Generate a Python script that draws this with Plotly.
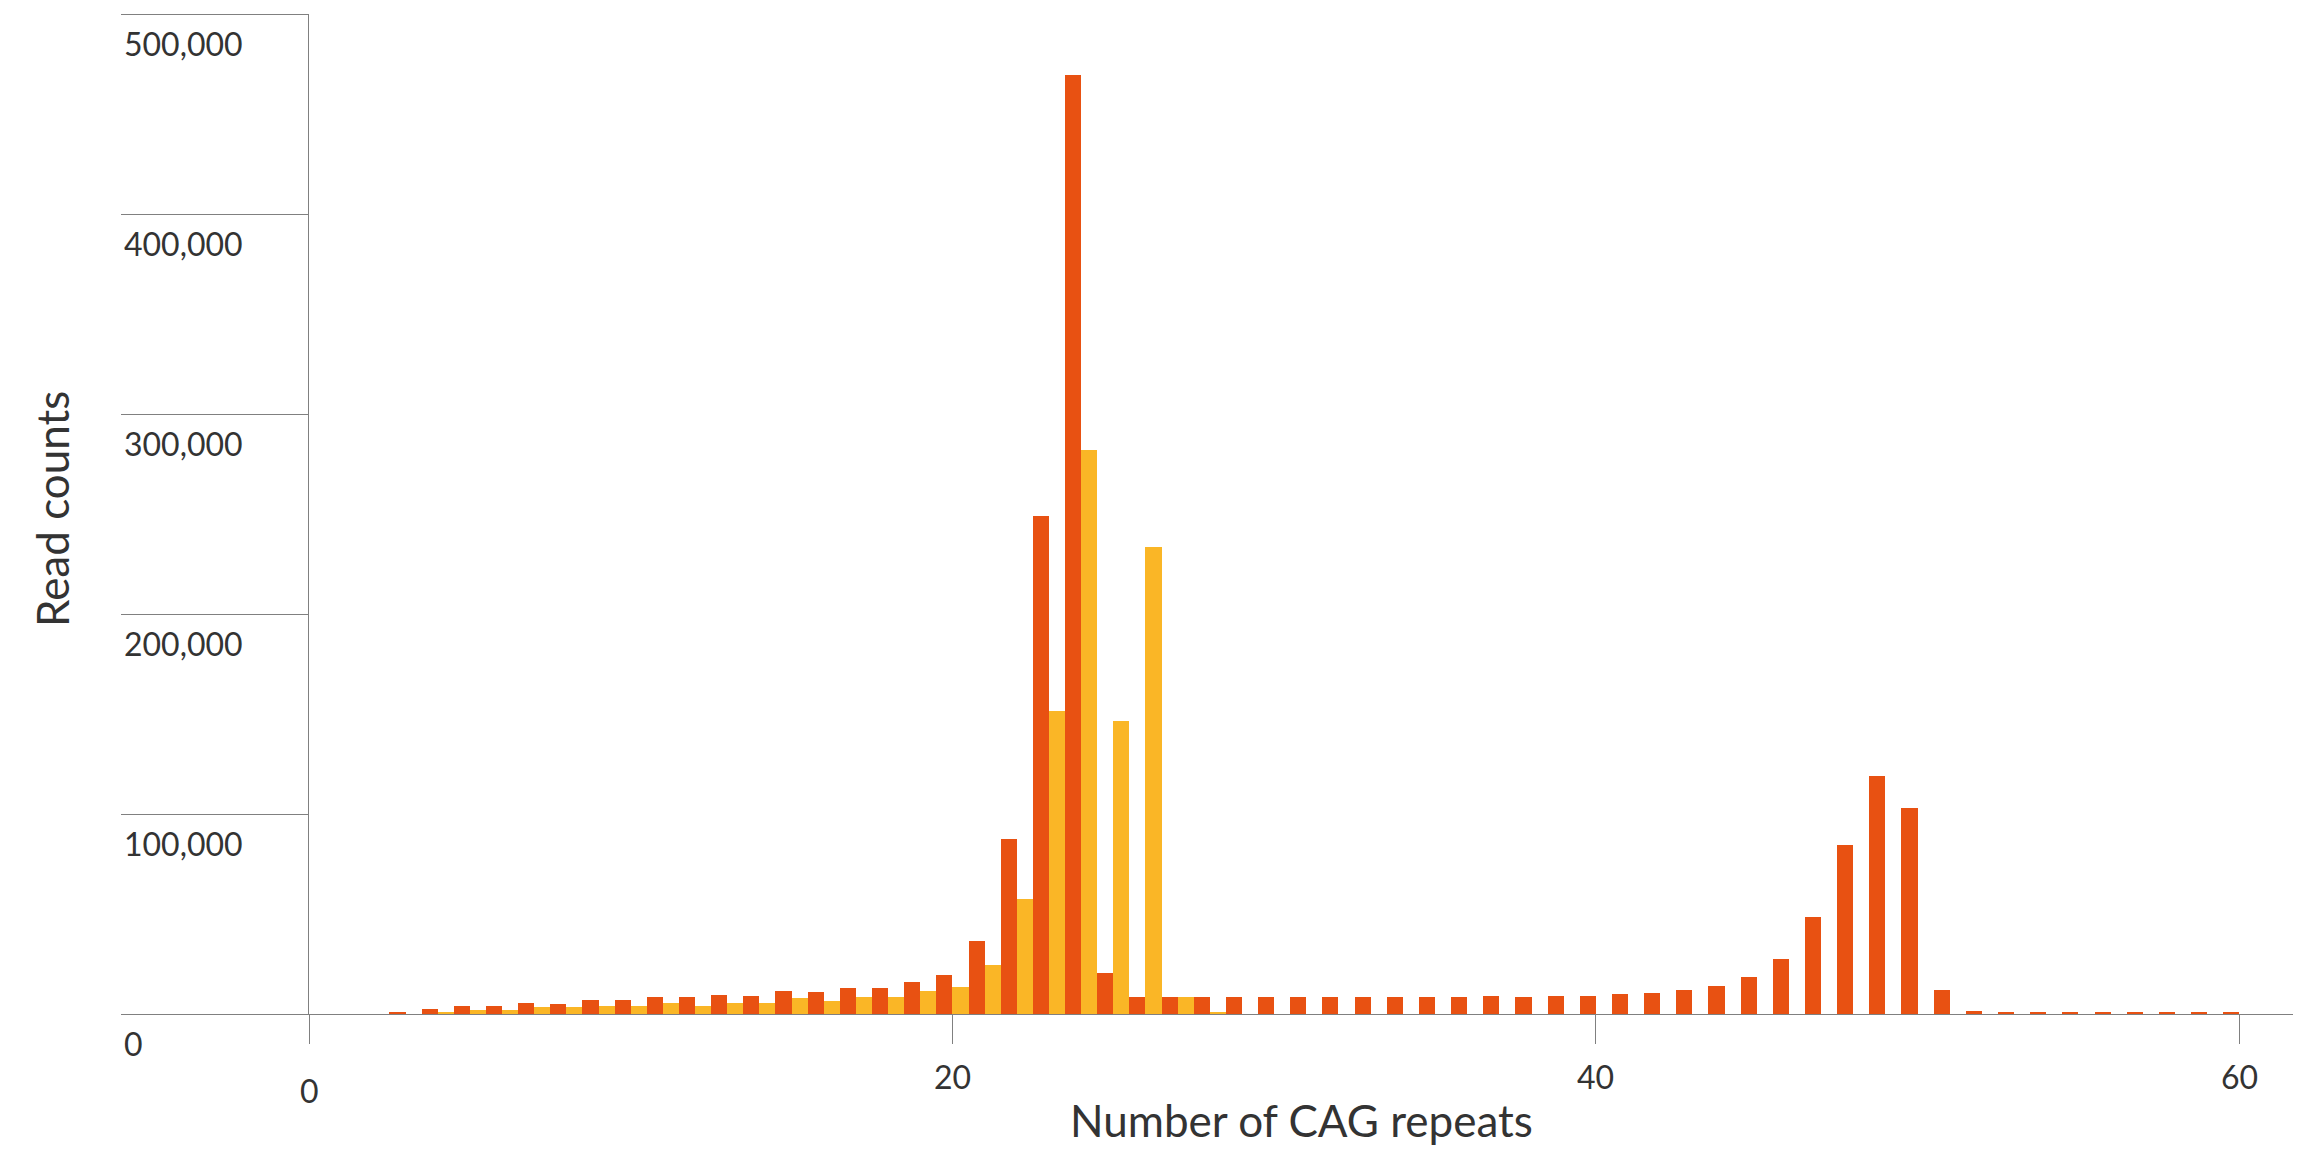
import plotly.graph_objects as go

# CAG repeat lengths on the x axis
repeats = list(range(3, 61))

# Read counts per repeat length, first sample (red-orange bars)
counts_sample_a = [
    1200, 2700, 4200, 4200, 5700, 5200, 7200, 7200, 8700, 8700,      # 3-12
    9700, 9200, 11700, 11200, 13200, 13200, 16200, 19700, 36700, 87400,  # 13-22
    248800, 469400, 20700, 8300, 8300, 8700, 8700, 8700, 8700, 8700,   # 23-32
    8700, 8700, 8700, 8700, 9200, 8500, 9000, 9000, 10000, 10500,      # 33-42
    12000, 14000, 18500, 27500, 48500, 84500, 119000, 103000, 12000, 1500,  # 43-52
    1000, 1000, 1000, 1000, 1000, 1000, 1000, 1000,                    # 53-60
]

# Read counts per repeat length, second sample (yellow bars)
counts_sample_b = [
    0, 1200, 2200, 2200, 3700, 3700, 4200, 4200, 5700, 4200,           # 3-12
    5700, 5700, 8200, 6700, 8700, 8700, 11700, 13300, 24700, 57300,    # 13-22
    151700, 282200, 146600, 233400, 8700, 1200, 0, 0, 0, 0,            # 23-32
    0, 0, 0, 0, 0, 0, 0, 0, 0, 0,                                      # 33-42
    0, 0, 0, 0, 0, 0, 0, 0, 0, 0,                                      # 43-52
    0, 0, 0, 0, 0, 0, 0, 0,                                            # 53-60
]

x_ticks = [0, 20, 40, 60]
x_tick_labels = ["0", "20", "40", "60"]
y_ticks = [0, 100000, 200000, 300000, 400000, 500000]
y_tick_labels = ["0", "100,000", "200,000", "300,000", "400,000", "500,000"]

x_title = "Number of CAG repeats"
y_title = "Read counts"

ORANGE = "#E85112"
YELLOW = "#FAB626"
AXIS = "#808080"
TEXT = "#333333"
FONT = "Lato, 'Open Sans', sans-serif"

W, H = 2304, 1154
M_L, M_R, M_T, M_B = 309, 11, 14, 140
PLOT_W = W - M_L - M_R
Y_TICKLEN = 187

fig = go.Figure()
fig.add_trace(go.Bar(x=repeats, y=counts_sample_a, marker=dict(color=ORANGE, line=dict(width=0)),
                     showlegend=False))
fig.add_trace(go.Bar(x=repeats, y=counts_sample_b, marker=dict(color=YELLOW, line=dict(width=0)),
                     showlegend=False))

fig.update_layout(
    width=W, height=H,
    margin=dict(l=M_L, r=M_R, t=M_T, b=M_B, autoexpand=False),
    paper_bgcolor="white", plot_bgcolor="white",
    barmode="group", bargap=0, bargroupgap=0,
    font=dict(family=FONT, color=TEXT),
    showlegend=False,
)

fig.update_xaxes(
    range=[0, 61.67], tickvals=x_ticks, showticklabels=False,
    ticks="outside", ticklen=29, tickwidth=1, tickcolor=AXIS,
    showline=True, linecolor=AXIS, linewidth=1,
    showgrid=False, zeroline=False, automargin=False,
)
fig.update_yaxes(
    range=[0, 500000], tickvals=y_ticks, showticklabels=False,
    ticks="outside", ticklen=Y_TICKLEN, tickwidth=1, tickcolor=AXIS,
    showline=True, linecolor=AXIS, linewidth=1,
    showgrid=False, zeroline=False, automargin=False,
)

# Y tick labels sit just under each long tick line, left-aligned at its outer end
for v, lab in zip(y_ticks, y_tick_labels):
    fig.add_annotation(
        x=-Y_TICKLEN / PLOT_W, xref="paper", xanchor="left",
        y=v, yref="y", yanchor="top", yshift=-8,
        text=lab, showarrow=False, font=dict(size=32, color=TEXT, family=FONT),
    )

# X tick labels below the tick marks; the origin label drops a little lower
for v, lab in zip(x_ticks, x_tick_labels):
    drop = 14 if v == 0 else 0
    fig.add_annotation(
        x=v, xref="x", xanchor="center",
        y=0, yref="paper", yanchor="top", yshift=-41 - drop,
        text=lab, showarrow=False, font=dict(size=32, color=TEXT, family=FONT),
    )

# Axis titles
fig.add_annotation(
    x=0.5, xref="paper", y=-0.106, yref="paper", yanchor="middle",
    text=x_title, showarrow=False, font=dict(size=44, color=TEXT, family=FONT),
)
fig.add_annotation(
    x=(52 - M_L) / PLOT_W, xref="paper", xanchor="center",
    y=0.505, yref="paper", yanchor="middle", textangle=-90,
    text=y_title, showarrow=False, font=dict(size=44, color=TEXT, family=FONT),
)

fig.write_html("out.html")
